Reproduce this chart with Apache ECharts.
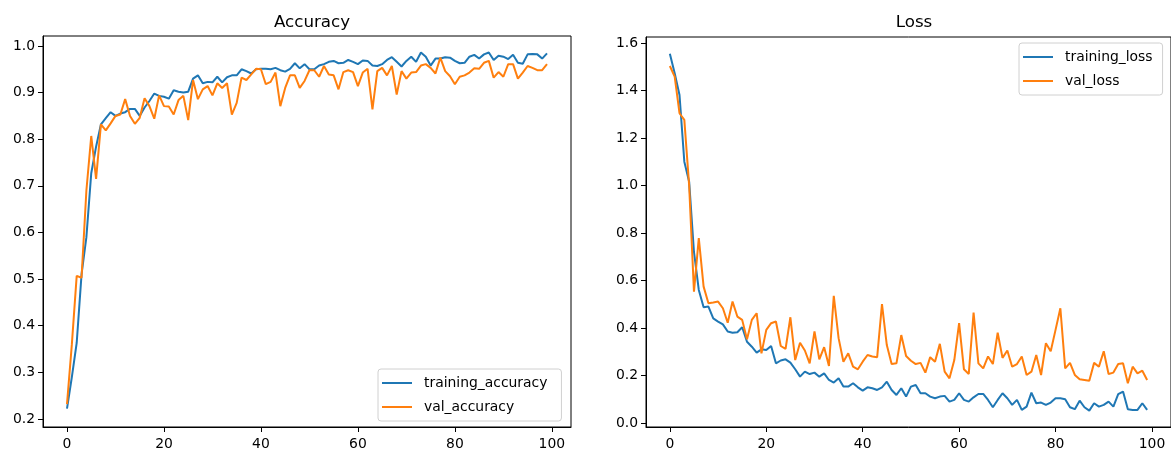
<!DOCTYPE html>
<html>
<head>
<meta charset="utf-8">
<script src="https://cdn.jsdelivr.net/npm/echarts@6/dist/echarts.min.js"></script>
<style>html,body{margin:0;padding:0;background:#fff}#c{width:1171px;height:454px}</style>
</head>
<body>
<div id="c"></div>
<script>
const trainAcc = [0.222,0.29,0.363,0.51,0.59,0.727,0.784,0.832,0.845,0.858,
0.85,0.855,0.858,0.865,0.865,0.85,0.868,0.882,0.898,0.893,
0.891,0.887,0.905,0.902,0.900,0.902,0.930,0.937,0.920,0.923,
0.922,0.934,0.922,0.933,0.937,0.937,0.950,0.946,0.941,0.950,
0.951,0.951,0.950,0.953,0.948,0.945,0.951,0.963,0.952,0.961,
0.950,0.950,0.958,0.961,0.966,0.968,0.963,0.964,0.970,0.966,
0.961,0.969,0.968,0.958,0.957,0.961,0.970,0.976,0.966,0.956,
0.968,0.977,0.966,0.986,0.977,0.958,0.973,0.973,0.976,0.975,
0.968,0.963,0.964,0.977,0.981,0.973,0.982,0.986,0.970,0.979,
0.977,0.972,0.981,0.964,0.962,0.982,0.983,0.982,0.973,0.984];
const valAcc = [0.232,0.36,0.507,0.503,0.69,0.807,0.715,0.832,0.819,0.834,
0.850,0.853,0.886,0.850,0.833,0.846,0.888,0.871,0.844,0.894,
0.871,0.870,0.853,0.884,0.893,0.841,0.927,0.886,0.907,0.914,
0.894,0.920,0.910,0.920,0.853,0.878,0.932,0.927,0.939,0.951,
0.950,0.918,0.923,0.943,0.871,0.910,0.937,0.937,0.910,0.925,
0.948,0.948,0.934,0.957,0.939,0.937,0.907,0.944,0.948,0.944,
0.914,0.943,0.951,0.864,0.946,0.953,0.937,0.957,0.896,0.946,
0.930,0.943,0.944,0.958,0.961,0.953,0.941,0.975,0.946,0.935,
0.918,0.934,0.937,0.943,0.952,0.951,0.964,0.968,0.932,0.944,
0.934,0.961,0.961,0.930,0.943,0.957,0.953,0.948,0.948,0.961];
const trainLoss = [1.554,1.472,1.381,1.10,1.016,0.72,0.56,0.487,0.49,0.44,
0.427,0.415,0.385,0.38,0.382,0.403,0.342,0.321,0.296,0.31,
0.307,0.324,0.251,0.263,0.268,0.254,0.226,0.195,0.216,0.206,
0.212,0.195,0.209,0.181,0.17,0.188,0.153,0.153,0.167,0.150,
0.136,0.150,0.146,0.139,0.150,0.174,0.139,0.118,0.146,0.111,
0.153,0.16,0.125,0.125,0.111,0.104,0.111,0.114,0.09,0.097,
0.125,0.097,0.09,0.108,0.122,0.122,0.097,0.066,0.097,0.125,
0.104,0.076,0.097,0.055,0.069,0.128,0.083,0.086,0.076,0.086,
0.104,0.104,0.10,0.066,0.058,0.094,0.066,0.052,0.083,0.069,
0.076,0.09,0.069,0.121,0.132,0.058,0.055,0.055,0.083,0.055];
const valLoss = [1.503,1.458,1.304,1.276,1.0,0.553,0.778,0.574,0.504,0.507,
0.511,0.483,0.422,0.511,0.448,0.434,0.352,0.434,0.462,0.293,
0.392,0.42,0.427,0.324,0.312,0.445,0.265,0.338,0.305,0.251,
0.385,0.268,0.319,0.24,0.535,0.357,0.258,0.293,0.237,0.226,
0.258,0.286,0.28,0.277,0.50,0.328,0.248,0.251,0.37,0.282,
0.262,0.248,0.253,0.212,0.277,0.258,0.333,0.216,0.188,0.265,
0.42,0.226,0.206,0.465,0.251,0.23,0.28,0.248,0.38,0.274,
0.305,0.237,0.248,0.28,0.202,0.216,0.286,0.202,0.336,0.302,
0.392,0.483,0.23,0.253,0.202,0.184,0.181,0.178,0.253,0.237,
0.302,0.206,0.212,0.248,0.251,0.167,0.237,0.209,0.22,0.181];
const xTicks = [0,20,40,60,80,100];
const accTicks = [0.2,0.3,0.4,0.5,0.6,0.7,0.8,0.9,1.0];
const lossTicks = [0,0.2,0.4,0.6,0.8,1.0,1.2,1.4,1.6];

const FONT = 'DejaVu Sans';
const pairs = arr => arr.map((v,i)=>[i,v]);
const fmt1 = v => v.toFixed(1);

function xAxis(gi){
  return {type:'value', gridIndex:gi, min:-4.95, max:103.95,
    axisLine:{show:true,onZero:false,lineStyle:{color:'#000',width:1}},
    axisTick:{show:true,length:5,customValues:xTicks,lineStyle:{color:'#000'}},
    axisLabel:{customValues:xTicks,margin:10,color:'#000',fontFamily:FONT,fontSize:13.9},
    splitLine:{show:false}};
}
function yAxis(gi,min,max,ticks){
  return {type:'value', gridIndex:gi, min:min, max:max,
    axisLine:{show:true,onZero:false,lineStyle:{color:'#000',width:1}},
    axisTick:{show:true,length:5,customValues:ticks,lineStyle:{color:'#000'}},
    axisLabel:{customValues:ticks,margin:8,color:'#000',fontFamily:FONT,fontSize:13.9,formatter:fmt1},
    splitLine:{show:false}};
}
const legendCommon = {orient:'vertical', icon:'rect', itemWidth:30, itemHeight:2, itemGap:8,
  backgroundColor:'rgba(255,255,255,0.8)', borderColor:'#d0d0d0', borderWidth:1, borderRadius:3,
  textStyle:{fontFamily:FONT,fontSize:13.9,color:'#000',lineHeight:16,padding:[0,0,0,7]}};

const chart = echarts.init(document.getElementById('c'), null, {renderer:'canvas'});
chart.setOption({
  animation:false,
  backgroundColor:'#fff',
  title:[
    {text:'Accuracy', left:307, top:9, textAlign:'center', textStyle:{fontFamily:FONT,fontSize:16.7,fontWeight:'normal',color:'#000'}},
    {text:'Loss', left:909, top:9, textAlign:'center', textStyle:{fontFamily:FONT,fontSize:16.7,fontWeight:'normal',color:'#000'}}
  ],
  grid:[
    {left:43, top:36, width:528, height:391, show:true, borderColor:'#000', borderWidth:1, backgroundColor:'transparent'},
    {left:646, top:37, width:527, height:390, show:true, borderColor:'#000', borderWidth:1, backgroundColor:'transparent'}
  ],
  xAxis:[xAxis(0), xAxis(1)],
  yAxis:[yAxis(0,0.1828,1.0214,accTicks), yAxis(1,-0.017,1.625,lossTicks)],
  legend:[
    Object.assign({}, legendCommon, {data:['training_accuracy','val_accuracy'], left:378, top:369, padding:[6,14,6,4]}),
    Object.assign({}, legendCommon, {data:['training_loss','val_loss'], left:1019, top:43, padding:[6,10,6,4]})
  ],
  series:[
    {name:'training_accuracy', type:'line', xAxisIndex:0, yAxisIndex:0, data:pairs(trainAcc), showSymbol:false, color:'#1f77b4', lineStyle:{width:2,color:'#1f77b4'}},
    {name:'val_accuracy', type:'line', xAxisIndex:0, yAxisIndex:0, data:pairs(valAcc), showSymbol:false, color:'#ff7f0e', lineStyle:{width:2,color:'#ff7f0e'}},
    {name:'training_loss', type:'line', xAxisIndex:1, yAxisIndex:1, data:pairs(trainLoss), showSymbol:false, color:'#1f77b4', lineStyle:{width:2,color:'#1f77b4'}},
    {name:'val_loss', type:'line', xAxisIndex:1, yAxisIndex:1, data:pairs(valLoss), showSymbol:false, color:'#ff7f0e', lineStyle:{width:2,color:'#ff7f0e'}}
  ]
});
</script>
</body>
</html>
